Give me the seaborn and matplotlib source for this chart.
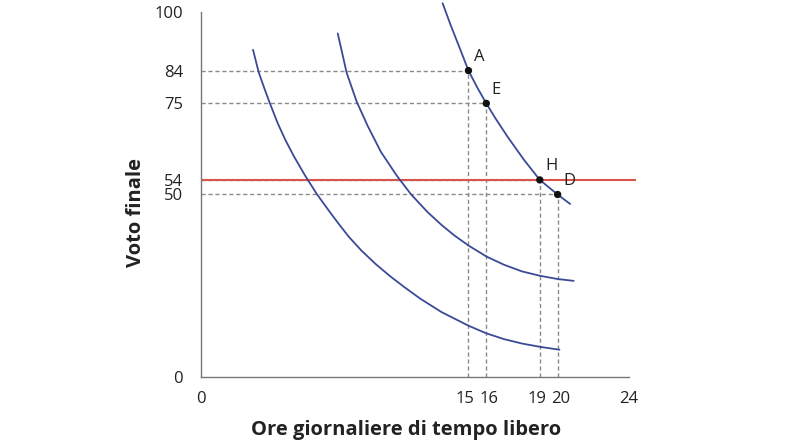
import numpy as np
import pandas as pd
import matplotlib
matplotlib.use("Agg")
import matplotlib.pyplot as plt
import matplotlib.transforms as mtransforms
import seaborn as sns

# indifference curves (leisure hours, final grade)
ic1_x = [2.92, 3.24, 3.52, 3.82, 4.30, 4.73, 5.21, 5.85, 6.50, 7.21, 7.7, 8.29, 9.0, 9.8, 10.6, 11.4, 12.3, 13.5, 15.0, 16.0, 17.0, 18.0, 19.0, 20.1]
ic1_y = [89.7, 83.5, 79.6, 75.6, 69.6, 65.0, 60.5, 55.1, 50.1, 45.3, 42.1, 38.4, 34.6, 30.9, 27.6, 24.6, 21.4, 17.7, 14.0, 11.9, 10.3, 9.1, 8.2, 7.4]

ic2_x = [7.67, 8.17, 8.73, 9.35, 10.09, 10.99, 11.77, 12.7, 13.5, 14.2, 15.0, 16.0, 17.0, 18.0, 19.0, 20.0, 20.9]
ic2_y = [94.2, 83.4, 75.5, 68.8, 61.7, 55.1, 50.1, 45.2, 41.6, 38.8, 36.0, 33.0, 30.7, 28.9, 27.7, 26.8, 26.3]

ic3_x = [13.55, 14.0, 14.5, 15.0, 15.5, 16.0, 16.5, 17.2, 18.1, 19.0, 20.0, 20.7]
ic3_y = [102.5, 96.5, 90.3, 84.0, 79.3, 75.0, 71.0, 65.8, 59.6, 54.0, 50.0, 47.4]

# labelled points
pt_names = ["A", "E", "H", "D"]
pt_x = [15, 16, 19, 20]
pt_y = [84, 75, 54, 50]

red_level = 54
x_ticks = [0, 15, 16, 19, 20, 24]
y_ticks = [0, 50, 54, 75, 84, 100]

sns.set_theme(style="white")
plt.rcParams["font.family"] = ["Open Sans", "DejaVu Sans"]

fig = plt.figure(figsize=(8.1, 4.44), dpi=100)
ax = fig.add_axes([0.2481, 0.1516, 0.5284, 0.8207])

blue = "#3b4a96"
grey = "#8a8a8a"

# dashed guide lines
ax.hlines(pt_y, 0, pt_x, colors=grey, linestyles=(0, (3, 2)), linewidth=1.0, zorder=1)
ax.vlines(pt_x, 0, pt_y, colors=grey, linestyles=(0, (3, 2)), linewidth=1.0, zorder=1)

for cx, cy in [(ic1_x, ic1_y), (ic2_x, ic2_y), (ic3_x, ic3_y)]:
    sns.lineplot(x=cx, y=cy, ax=ax, color=blue, linewidth=1.3, sort=False,
                 estimator=None, zorder=3, clip_on=False)

ax.hlines(red_level, 0, 24.4, colors="#d9544a", linewidth=1.5, zorder=2, clip_on=False)

pts = pd.DataFrame({"x": pt_x, "y": pt_y, "name": pt_names})
sns.scatterplot(data=pts, x="x", y="y", ax=ax, color="#111111", s=28,
                edgecolor="none", zorder=5, clip_on=False)
for name, px, py in zip(pt_names, pt_x, pt_y):
    ax.annotate(name, (px, py), xytext=(4, 7), textcoords="offset points",
                fontsize=12, color="#222222")

ax.set_xlim(0, 24)
ax.set_ylim(0, 100)
ax.set_xticks(x_ticks)
ax.set_yticks(y_ticks)
ax.set_xticklabels([str(t) for t in x_ticks])
ax.set_yticklabels([str(t) for t in y_ticks])
ax.tick_params(axis="both", direction="out", length=6, width=1, color="#777777",
               labelsize=12, labelcolor="#222222")
ax.tick_params(axis="x", pad=4)
ax.tick_params(axis="y", pad=7)

# nudge the crowded x labels apart a little
nudge = {"15": -3, "16": 3, "19": -3, "20": 3}
for lab in ax.get_xticklabels():
    dx = nudge.get(lab.get_text(), 0)
    if dx:
        lab.set_transform(lab.get_transform() +
                          mtransforms.ScaledTranslation(dx / 100, 0, fig.dpi_scale_trans))

for side in ["top", "right"]:
    ax.spines[side].set_visible(False)
for side in ["left", "bottom"]:
    ax.spines[side].set_color("#777777")
    ax.spines[side].set_linewidth(1.0)

ax.set_xlabel("Ore giornaliere di tempo libero", fontsize=14.5, fontweight="bold", color="#222222")
ax.set_ylabel("Voto finale", fontsize=14.5, fontweight="bold", color="#222222")
ax.xaxis.set_label_coords(0.48, -0.12)
ax.yaxis.set_label_coords(-0.128, 0.45)

fig.savefig("out.png", dpi=100)
